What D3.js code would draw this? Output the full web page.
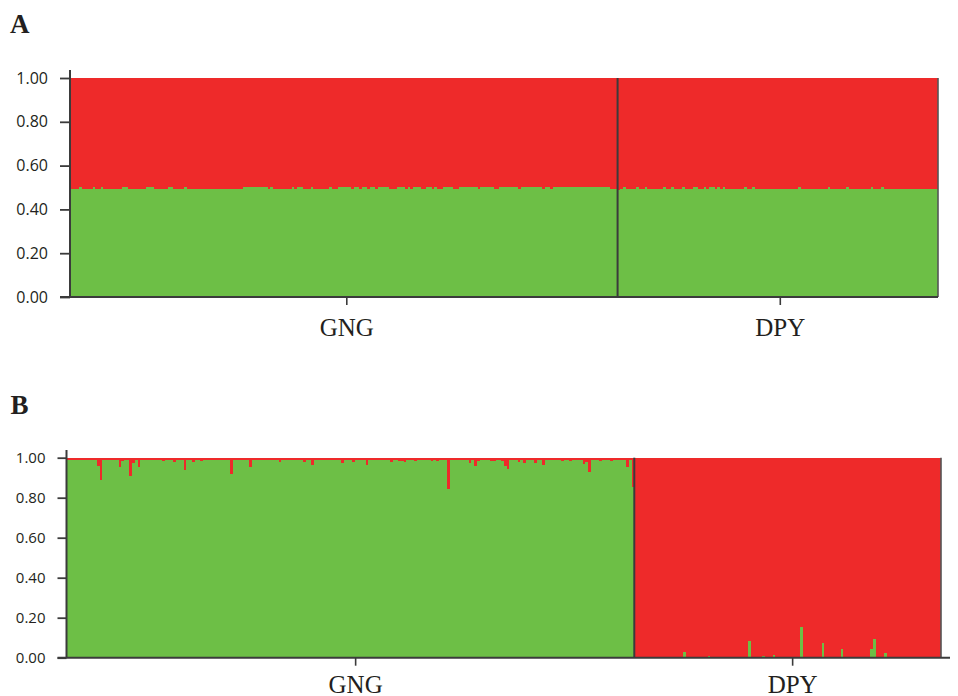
<!DOCTYPE html>
<html>
<head>
<meta charset="utf-8">
<script src="https://cdn.jsdelivr.net/npm/d3@7"></script>
<style>
  html, body { margin: 0; padding: 0; background: #fff; }
  svg { display: block; }
</style>
</head>
<body>
<svg id="chart" width="958" height="696"></svg>
<script>
// Population groups, in plotting order
const groups = ["GNG", "DPY"];
const yTicks = [0, 0.2, 0.4, 0.6, 0.8, 1.0];

// Panel A: membership in the green cluster for each individual
const gngA = [
  .493,.493,.493,.502,.493,.493,.493,.493,.502,.493,
  .493,.502,.493,.493,.493,.493,.493,.493,.493,.502,
  .502,.493,.493,.493,.493,.493,.493,.493,.502,.502,
  .502,.493,.493,.493,.493,.493,.502,.502,.493,.493,
  .493,.493,.502,.493,.493,.493,.493,.493,.493,.493,
  .493,.493,.493,.493,.493,.493,.493,.493,.493,.493,
  .493,.493,.493,.493,.502,.502,.502,.502,.502,.502,
  .502,.502,.502,.493,.502,.493,.493,.493,.493,.493,
  .493,.493,.502,.493,.502,.502,.493,.493,.493,.502,
  .493,.493,.493,.493,.493,.493,.502,.493,.493,.502,
  .502,.502,.502,.502,.493,.502,.502,.493,.502,.502,
  .493,.502,.502,.493,.502,.502,.502,.502,.493,.493,
  .493,.502,.502,.502,.493,.502,.493,.502,.502,.502,
  .493,.493,.502,.502,.493,.502,.493,.493,.502,.502,
  .502,.502,.493,.493,.502,.502,.502,.502,.502,.502,
  .502,.493,.502,.502,.502,.502,.502,.493,.493,.502,
  .502,.502,.502,.502,.502,.502,.493,.502,.502,.502,
  .502,.502,.502,.502,.502,.493,.502,.502,.493,.502,
  .502,.502,.502,.502,.502,.502,.502,.502,.502,.502,
  .502,.502,.502,.502,.502,.502,.502,.502,.502,.502,
  .493,.493,.493
];
const dpyA = [
  .488,.493,.502,.493,.493,.493,.493,.502,.493,.493,
  .502,.493,.493,.493,.493,.493,.493,.502,.493,.493,
  .502,.493,.493,.493,.502,.493,.493,.493,.502,.502,
  .493,.493,.502,.493,.502,.502,.493,.502,.493,.502,
  .493,.493,.493,.493,.493,.493,.493,.502,.493,.493,
  .502,.493,.493,.493,.493,.493,.493,.493,.493,.493,
  .493,.493,.493,.493,.493,.493,.493,.502,.493,.493,
  .493,.493,.493,.493,.493,.493,.493,.493,.502,.493,
  .493,.493,.493,.493,.493,.502,.493,.493,.493,.493,
  .493,.493,.493,.493,.502,.493,.493,.493,.502,.493,
  .493,.493,.493,.493,.493,.493,.493,.493,.493,.493,
  .493,.493,.493,.493,.493,.493,.493,.493,.493
];

// Panel B: membership in the green cluster for each individual
const gngB = [
  .99,.99,.988,.99,.99,.99,.99,.99,.99,.99,
  .99,.958,.889,.99,.99,.99,.99,.99,.99,.953,
  .985,.99,.99,.909,.973,.99,.953,.99,.99,.99,
  .99,.988,.988,.99,.99,.985,.99,.99,.99,.978,
  .99,.99,.99,.94,.99,.99,.978,.99,.99,.985,
  .99,.99,.99,.99,.99,.99,.99,.99,.988,.99,
  .918,.99,.99,.99,.99,.99,.99,.953,.99,.99,
  .99,.99,.99,.99,.99,.99,.99,.99,.978,.99,
  .99,.99,.99,.99,.99,.99,.99,.978,.99,.99,
  .963,.99,.99,.99,.99,.99,.99,.99,.99,.99,
  .99,.973,.99,.99,.99,.978,.99,.99,.99,.99,
  .963,.99,.99,.99,.99,.99,.99,.99,.99,.978,
  .99,.99,.985,.985,.978,.99,.99,.99,.985,.99,
  .99,.99,.99,.99,.985,.99,.985,.99,.99,.99,
  .843,.99,.99,.99,.99,.99,.99,.99,.973,.99,
  .958,.985,.99,.99,.99,.99,.985,.985,.99,.99,
  .983,.958,.943,.99,.99,.99,.978,.99,.973,.99,
  .99,.99,.973,.99,.99,.963,.99,.99,.99,.99,
  .99,.99,.985,.99,.99,.985,.99,.99,.99,.99,
  .968,.978,.928,.99,.99,.99,.985,.99,.99,.99,
  .985,.99,.99,.99,.99,.99,.953,.99,.853
];
const dpyB = [
  0,0,0,0,0,0,0,0,0,0,
  0,0,0,0,0,0,0,0,.028,0,
  0,0,0,0,0,0,0,.008,0,0,
  0,0,0,0,0,0,0,0,0,0,
  0,0,.085,0,0,0,0,.008,0,0,
  0,.015,0,0,0,0,0,0,0,0,
  0,.152,0,0,0,0,0,0,0,.073,
  0,0,0,0,0,0,.043,0,0,0,
  0,0,0,0,0,0,0,.043,.093,0,
  0,0,.023,0,0,0,0,0,0,0,
  0,0,0,0,0,0,0,0,0,0,
  0,0,0
];

const GREEN = "#6dbf46";
const RED = "#ee2a2a";
const INK = "#231f20";
const LINE = "#3b3b3b";

const svg = d3.select("#chart");

function drawPanel(cfg) {
  const { letter, gng, dpy } = cfg;
  const values = gng.concat(dpy);
  const n = values.length;

  const x = d3.scaleBand().domain(d3.range(n)).range([cfg.x0, cfg.x1]).padding(0);
  const y = d3.scaleLinear().domain([0, 1]).range([cfg.yBot, cfg.yTop]);
  const g = svg.append("g");

  // Stacked membership bars: green cluster below, red cluster above
  const bars = g.append("g").attr("shape-rendering", "crispEdges");
  bars.selectAll("rect.green").data(values).join("rect")
    .attr("class", "green")
    .attr("x", (d, i) => x(i))
    .attr("width", x.bandwidth())
    .attr("y", d => y(d))
    .attr("height", d => y(0) - y(d))
    .attr("fill", GREEN);
  bars.selectAll("rect.red").data(values).join("rect")
    .attr("class", "red")
    .attr("x", (d, i) => x(i))
    .attr("width", x.bandwidth())
    .attr("y", y(1))
    .attr("height", d => y(d) - y(1))
    .attr("fill", RED);

  // Population divider and right edge
  const xSplit = x(gng.length);
  g.append("line")
    .attr("x1", xSplit).attr("x2", xSplit)
    .attr("y1", y(1)).attr("y2", y(0))
    .attr("stroke", LINE).attr("stroke-width", 2);
  g.append("line")
    .attr("x1", cfg.x1).attr("x2", cfg.x1)
    .attr("y1", y(1)).attr("y2", y(0))
    .attr("stroke", "#555").attr("stroke-width", 1.6);

  // Y axis
  const ya = g.append("g")
    .attr("transform", `translate(${cfg.axisX},0)`)
    .call(d3.axisLeft(y).tickValues(yTicks).tickFormat(d3.format(".2f"))
      .tickSize(cfg.tickLen).tickPadding(12).tickSizeOuter(0));
  ya.select(".domain").remove();
  ya.selectAll(".tick line").attr("stroke", LINE).attr("stroke-width", 1.8);
  ya.selectAll(".tick text")
    .attr("fill", INK)
    .style("font-family", "'Open Sans', 'Noto Sans', sans-serif")
    .style("font-size", cfg.fs + "px");
  g.append("line")
    .attr("x1", cfg.axisX).attr("x2", cfg.axisX)
    .attr("y1", cfg.axisTop).attr("y2", y(0))
    .attr("stroke", LINE).attr("stroke-width", 2);

  // X axis with one tick per population
  const centers = [
    (cfg.x0 + xSplit) / 2 + cfg.tickShift,
    (xSplit + cfg.x1) / 2 + cfg.tickShift
  ];
  const xg = d3.scaleOrdinal().domain(groups).range(centers);
  const xa = g.append("g")
    .attr("transform", `translate(0,${y(0)})`)
    .call(d3.axisBottom(xg).tickSize(8).tickPadding(cfg.labelPad).tickSizeOuter(0));
  xa.select(".domain").remove();
  xa.selectAll(".tick line").attr("stroke", LINE).attr("stroke-width", 1.6);
  xa.selectAll(".tick text")
    .attr("fill", INK)
    .style("font-family", "'Liberation Serif', 'Times New Roman', serif")
    .style("font-size", "25px");
  g.append("line")
    .attr("x1", cfg.axisX - cfg.tickLen).attr("x2", cfg.xAxisEnd)
    .attr("y1", y(0)).attr("y2", y(0))
    .attr("stroke", LINE).attr("stroke-width", 2);

  // Panel letter
  svg.append("text")
    .attr("x", cfg.letterX).attr("y", cfg.letterY)
    .attr("fill", INK)
    .style("font-family", "'Liberation Serif', 'Times New Roman', serif")
    .style("font-weight", "bold")
    .style("font-size", "27px")
    .text(letter);
}

drawPanel({
  letter: "A", gng: gngA, dpy: dpyA,
  x0: 71, x1: 938, yTop: 78, yBot: 297,
  axisX: 70, axisTop: 70, tickLen: 10, fs: 16,
  labelPad: 13, tickShift: 2, xAxisEnd: 938,
  letterX: 10, letterY: 33
});

drawPanel({
  letter: "B", gng: gngB, dpy: dpyB,
  x0: 67, x1: 941, yTop: 457.7, yBot: 657.7,
  axisX: 66.5, axisTop: 450, tickLen: 9, fs: 15,
  labelPad: 10, tickShift: 4.5, xAxisEnd: 950,
  letterX: 10.5, letterY: 414
});
</script>
</body>
</html>
